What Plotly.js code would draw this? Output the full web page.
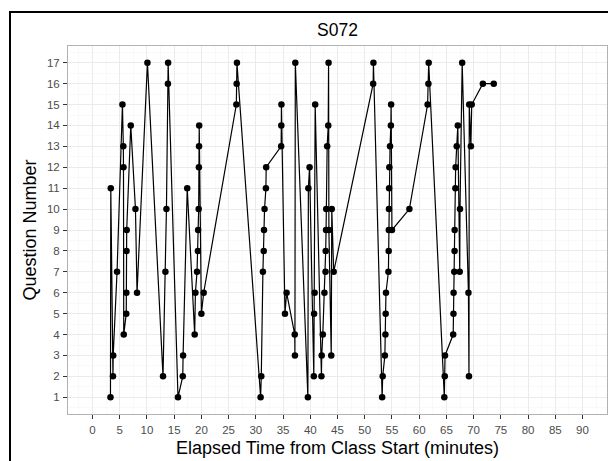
<!DOCTYPE html>
<html>
<head>
<meta charset="utf-8">
<script src="https://cdn.plot.ly/plotly-3.0.1.min.js"></script>
<style>
html, body { margin:0; padding:0; overflow:hidden; background:#fff; }
#chart { width:608px; height:461px; position:absolute; left:0; top:0; }
#frame { position:absolute; left:9px; top:11px; width:800px; height:800px;
  border-left:2px solid #000; border-top:2px solid #000; pointer-events:none; }
</style>
</head>
<body>
<div id="chart"></div>
<div id="frame"></div>
<script>
// Elapsed time (minutes) of each response, in time order
const elapsedMinutes = [
  3.30, 3.36, 3.76, 3.80, 4.51, 5.50, 5.66, 5.69, 5.74, 6.20, 6.22, 6.25, 6.28, 7.03, 7.89, 8.18,
  10.09, 12.95, 13.39, 13.58, 13.85, 13.89,
  15.70, 16.58, 16.64, 17.40, 18.77, 18.90, 19.20, 19.36, 19.40, 19.50, 19.54, 19.57, 19.60, 20.00, 20.42,
  26.42, 26.48, 26.53,
  30.88, 31.00, 31.30, 31.45, 31.50, 31.60, 31.85, 31.90, 34.65, 34.68, 34.70, 35.35, 35.65, 37.15, 37.18, 37.25,
  39.56, 39.65, 39.87, 40.65, 40.70, 40.80, 40.90, 42.05, 42.10, 42.30, 42.60, 42.80, 42.83, 42.90, 42.93,
  43.10, 43.30, 43.36, 43.42, 43.85, 43.95, 44.30,
  51.55, 51.60,
  53.20, 53.30, 53.70, 53.80, 53.85, 53.90, 54.35, 54.40, 54.42, 54.45, 54.48, 54.52, 54.65, 54.80, 54.85,
  55.00, 58.20, 61.55, 61.70, 61.75,
  64.62, 64.70, 64.75, 66.25, 66.30, 66.32, 66.45, 66.50, 66.52, 66.65, 66.70, 66.90, 67.10, 67.45, 67.50,
  67.90, 69.05, 69.15, 69.20, 69.50, 69.65, 71.70, 73.70
];
// Question number answered at each time
const questionNumber = [
  1, 11, 2, 3, 7, 15, 13, 12, 4, 5, 6, 8, 9, 14, 10, 6,
  17, 2, 7, 10, 16, 17,
  1, 2, 3, 11, 4, 6, 7, 8, 9, 10, 12, 13, 14, 5, 6,
  15, 16, 17,
  1, 2, 7, 8, 9, 10, 11, 12, 13, 14, 15, 5, 6, 4, 3, 17,
  1, 11, 12, 2, 5, 6, 15, 2, 3, 4, 6, 7, 8, 9, 10,
  13, 14, 17, 9, 3, 10, 7,
  16, 17,
  1, 2, 3, 4, 5, 6, 7, 8, 9, 10, 11, 12, 13, 14, 15,
  9, 10, 15, 16, 17,
  1, 2, 3, 4, 5, 6, 7, 8, 9, 11, 12, 13, 14, 7, 10,
  17, 6, 2, 15, 13, 15, 16, 16
];
const xTickValues = [0,5,10,15,20,25,30,35,40,45,50,55,60,65,70,75,80,85,90];
const yTickValues = [1,2,3,4,5,6,7,8,9,10,11,12,13,14,15,16,17];
const chartTitle = 'S072';
const xTitle = 'Elapsed Time from Class Start (minutes)';
const yTitle = 'Question Number';

const font = '"Liberation Sans", Arial, Helvetica, sans-serif';

const trace = {
  x: elapsedMinutes,
  y: questionNumber,
  type: 'scatter',
  mode: 'lines+markers',
  line: { color: '#000', width: 1.2 },
  marker: { color: '#000', size: 6.5 },
  hoverinfo: 'skip'
};

const axisCommon = {
  showline: true, mirror: true, linecolor: '#b3b3b3', linewidth: 1,
  ticks: 'outside', ticklen: 4, tickwidth: 1, tickcolor: '#333',
  ticklabelstandoff: 1,
  tickfont: { family: font, size: 11.5, color: '#4d4d4d' },
  gridcolor: '#ebebeb', gridwidth: 1, zeroline: false
};

const layout = {
  width: 608, height: 461,
  margin: { l: 68, r: 1, t: 46, b: 47 },
  paper_bgcolor: '#fff', plot_bgcolor: '#fff',
  showlegend: false,
  title: { text: chartTitle, font: { family: font, size: 17.5, color: '#000' },
           x: 0.5, xref: 'paper', xanchor: 'center', y: 1 - 30/461, yref: 'container', yanchor: 'middle' },
  xaxis: Object.assign({}, axisCommon, {
    range: [-4.5, 94.5], tickmode: 'array', tickvals: xTickValues,
    minor: { dtick: 2.5, tick0: 2.5, showgrid: true, gridcolor: '#f5f5f5', gridwidth: 0.6, ticks: '' },
    title: { text: xTitle, font: { family: font, size: 18, color: '#000' }, standoff: 6 }
  }),
  yaxis: Object.assign({}, axisCommon, {
    range: [0.2, 17.8], tickmode: 'array', tickvals: yTickValues,
    minor: { dtick: 1, tick0: 0.5, showgrid: true, gridcolor: '#f5f5f5', gridwidth: 0.6, ticks: '' },
    title: { text: yTitle, font: { family: font, size: 18, color: '#000' }, standoff: 5 }
  })
};

Plotly.newPlot('chart', [trace], layout, { staticPlot: true, displayModeBar: false });
</script>
</body>
</html>
